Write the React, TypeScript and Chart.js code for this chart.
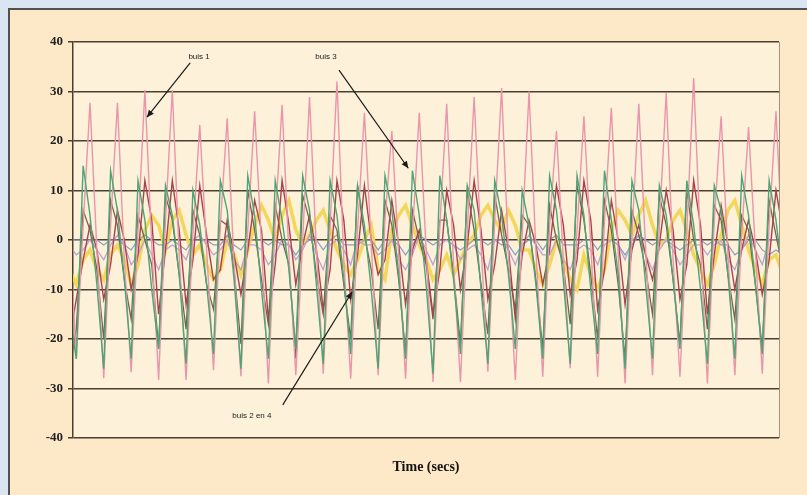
import React, { useEffect, useRef } from "react";
import { Chart, registerables } from "chart.js";

Chart.register(...registerables);

// Y axis range and tick step
const yMin = -40;
const yMax = 40;
const yStep = 10;
const xTitle = "Time (secs)";

// Sample instants (one step = a quarter of the dominant period)
const sampleTime = Array.from({ length: 105 }, (_, i) => i - 3);

// buis 1 (pink)
const buis1 = [
  2, -24, 3,
  27.7, -2, -27.9, 3,
  27.7, -4, -26.7, 2,
  30.3, -1, -28.3, 4,
  30.3, -3, -28.3, 1,
  23.2, -2, -26.3, 3,
  24.6, -5, -27.5, 2,
  26, -1, -29, 4,
  27.3, -3, -27.3, 0,
  28.9, -2, -27, 3,
  32, -4, -28, 2,
  25.7, -1, -27.3, 4,
  22, -3, -28, 1,
  25.7, -2, -28.7, 3,
  27.5, -5, -28.7, 2,
  28.9, -1, -26.6, 4,
  30.7, -3, -28.3, 1,
  30, -2, -27.6, 3,
  22, -4, -25.9, 2,
  25, -1, -27.6, 4,
  26.7, -3, -29, 1,
  27.5, -2, -27.3, 3,
  29.7, -4, -27.6, 2,
  32.7, -1, -29, 4,
  25, -3, -27.3, 1,
  22.8, -2, -27, 3,
  26, -3,
];

// buis 3 (green)
const buis3 = [
  -15, -24, 15,
  5, -9, -26, 14,
  6, -8, -24, 12,
  4, -10, -22, 11,
  5, -7, -25, 10,
  3, -9, -23, 12,
  6, -8, -26, 13,
  5, -10, -24, 12,
  4, -6, -22, 13,
  6, -9, -25, 12,
  5, -8, -23, 11,
  3, -10, -26, 13,
  6, -7, -24, 14,
  5, -9, -27, 13,
  4, -8, -23, 11,
  6, -10, -25, 12,
  5, -7, -22, 10,
  3, -9, -24, 13,
  6, -8, -25, 13,
  5, -10, -23, 14,
  4, -7, -26, 12,
  6, -9, -24, 11,
  5, -8, -22, 12,
  3, -10, -25, 11,
  6, -7, -24, 13,
  5, -9, -23, 12,
  4, -8,
];

// buis 2 (maroon)
const buis2 = [
  -20, -12, -4,
  3, -2, -12, -5,
  6, 0, -10, -3,
  12, 4, -15, -2,
  12, 2, -13, -4,
  11, 1, -8, -6,
  4, -3, -11, -2,
  8, 2, -16, -5,
  12, 3, -9, -1,
  5, -2, -14, -6,
  12, 4, -12, -3,
  11, 0, -7, -4,
  8, -1, -13, -2,
  2, -4, -15, -6,
  10, 3, -10, -1,
  12, 2, -12, -5,
  6, -2, -16, -3,
  4, -1, -9, -2,
  11, 3, -11, -4,
  12, 4, -14, -6,
  8, 0, -13, -2,
  3, -3, -8, -1,
  10, 2, -12, -5,
  12, 3, -15, -3,
  7, -1, -10, -2,
  4, -2, -11, -4,
  10, 2,
];

// buis 4 (dark olive)
const buis4 = [
  -26, -18, 6,
  2, -6, -20, 8,
  3, -8, -16, 5,
  0, -5, -22, 9,
  4, -7, -18, 6,
  1, -9, -14, 4,
  3, -6, -21, 10,
  2, -8, -17, 7,
  0, -5, -24, 9,
  4, -7, -15, 5,
  2, -9, -20, 11,
  1, -6, -18, 8,
  3, -8, -23, 6,
  0, -5, -16, 4,
  4, -7, -21, 10,
  2, -9, -19, 9,
  1, -6, -14, 5,
  3, -8, -22, 7,
  0, -5, -17, 11,
  4, -7, -20, 8,
  2, -9, -24, 6,
  1, -6, -15, 9,
  3, -8, -21, 10,
  0, -5, -18, 7,
  4, -7, -16, 5,
  2, -9, -22, 8,
  1, -6,
];

// yellow trace
const yellowTrace = [
  -6, -9, -4,
  -2, -6, -8, -3,
  -1, -4, -9, -5,
  2, 5, 3, -2,
  4, 6, 1, -3,
  -1, -5, -8, -6,
  0, -3, -7, -2,
  3, 7, 4, 0,
  5, 8, 2, -1,
  1, 4, 6, 2,
  -2, -5, -7, -4,
  0, 3, -6, -8,
  2, 5, 7, 3,
  -1, -4, -8, -6,
  -3, -7, -4, -1,
  1, 5, 7, 4,
  2, 6, 3, -2,
  -2, -6, -9, -5,
  0, -4, -8, -10,
  -3, -7, -10, -6,
  2, 6, 4, 1,
  5, 8, 3, -1,
  0, 4, 6, 2,
  -3, -6, -9, -5,
  1, 6, 8, 3,
  -2, -6, -9, -4,
  -3, -7,
];

// lilac trace
const lilacTrace = [
  -1, -3, -2,
  0, -2, -4, -1,
  1, -1, -5, -3,
  0, -3, -6, -2,
  -1, -2, -4, 0,
  1, -1, -3, -2,
  0, -4, -6, -1,
  -1, -2, -5, -3,
  0, -1, -4, -2,
  1, -3, -6, -1,
  0, -2, -5, 0,
  -1, -1, -3, -2,
  0, -4, -6, -3,
  1, -2, -5, -1,
  0, -1, -4, -2,
  -1, -3, -6, 0,
  0, -2, -5, -1,
  1, -1, -3, -3,
  0, -4, -6, -2,
  -1, -2, -5, -1,
  0, -1, -4, 0,
  1, -3, -6, -2,
  0, -2, -5, -3,
  -1, -1, -3, -1,
  0, -4, -6, -2,
  1, -2, -5, 0,
  0, -1,
];

// blue-grey trace
const blueTrace = [
  0, 0, 0,
  0, 0, -1, 0,
  0, -1, -2, 0,
  1, 0, -1, -1,
  0, -1, -2, 0,
  0, 0, -1, -1,
  1, -1, -2, 0,
  0, 0, -1, 0,
  -1, -1, -3, -1,
  0, 0, -2, 0,
  1, -1, -1, -1,
  0, 0, -2, 0,
  0, -1, -3, -1,
  1, 0, -1, 0,
  0, -1, -2, -1,
  0, 0, -1, 0,
  -1, -1, -3, -1,
  0, 0, -2, 0,
  1, -1, -1, -1,
  0, 0, -2, 0,
  0, -1, -3, -1,
  1, 0, -1, 0,
  0, -1, -2, -1,
  0, 0, -1, 0,
  -1, -1, -3, -2,
  0, 0, -2, -3,
  -2, -3,
];

// annotation labels: text position and arrow (in data units)
const annLabels = ["buis 1", "buis 3", "buis 2 en 4"];
const annTextX = [15.9, 34.4, 23.6];
const annTextY = [37.0, 37.0, -35.6];
const annFromX = [14.6, 36.3, 28.1];
const annFromY = [35.8, 34.3, -33.3];
const annToX = [8.3, 46.4, 38.2];
const annToY = [24.8, 14.5, -10.5];

const chartPlugin = {
  id: "decor",
  beforeDraw(chart: any) {
    const { ctx, chartArea: a } = chart;
    ctx.save();
    ctx.fillStyle = "#fdf1da";
    ctx.fillRect(a.left, a.top, a.right - a.left, a.bottom - a.top);
    ctx.restore();
  },
  afterDraw(chart: any) {
    const { ctx, chartArea: a, scales } = chart;
    ctx.save();
    ctx.strokeStyle = "#a09480";
    ctx.lineWidth = 1;
    ctx.beginPath();
    ctx.moveTo(a.right + 0.5, a.top);
    ctx.lineTo(a.right + 0.5, a.bottom);
    ctx.stroke();

    const xs = scales.x;
    const ys = scales.y;
    ctx.fillStyle = "#1a1a1a";
    ctx.strokeStyle = "#1a1a1a";
    ctx.font = '8px "Liberation Sans", Arial, sans-serif';
    ctx.textAlign = "center";
    ctx.textBaseline = "middle";
    for (let i = 0; i < annLabels.length; i++) {
      ctx.fillText(annLabels[i], xs.getPixelForValue(annTextX[i]), ys.getPixelForValue(annTextY[i]));
      const x0 = xs.getPixelForValue(annFromX[i]);
      const y0 = ys.getPixelForValue(annFromY[i]);
      const x1 = xs.getPixelForValue(annToX[i]);
      const y1 = ys.getPixelForValue(annToY[i]);
      ctx.lineWidth = 1.2;
      ctx.beginPath();
      ctx.moveTo(x0, y0);
      ctx.lineTo(x1, y1);
      ctx.stroke();
      const ang = Math.atan2(y1 - y0, x1 - x0);
      const len = 7;
      const w = 3.2;
      ctx.beginPath();
      ctx.moveTo(x1, y1);
      ctx.lineTo(x1 - len * Math.cos(ang) + w * Math.sin(ang), y1 - len * Math.sin(ang) - w * Math.cos(ang));
      ctx.lineTo(x1 - len * Math.cos(ang) - w * Math.sin(ang), y1 - len * Math.sin(ang) + w * Math.cos(ang));
      ctx.closePath();
      ctx.fill();
    }
    ctx.restore();
  },
};

function line(label: string, data: number[], color: string, width: number) {
  return {
    label,
    data,
    borderColor: color,
    backgroundColor: color,
    borderWidth: width,
    pointRadius: 0,
    tension: 0,
    fill: false,
  };
}

export default function App() {
  const canvasRef = useRef<HTMLCanvasElement | null>(null);

  useEffect(() => {
    document.body.style.background = "#dbe5f1";
    document.body.style.overflow = "hidden";
    const canvas = canvasRef.current;
    if (!canvas) return;
    const chart = new Chart(canvas, {
      type: "line",
      data: {
        labels: sampleTime,
        datasets: [
          line("buis 3", buis3, "#4aa673", 1.4),
          line("buis 1", buis1, "#ea95aa", 1.4),
          line("buis 2", buis2, "#a8424c", 1.4),
          line("buis 4", buis4, "#74664c", 1.3),
          line("lilac", lilacTrace, "#bda2cf", 1.3),
          line("blue", blueTrace, "#8a9fc4", 1.2),
          line("yellow", yellowTrace, "#f3d75a", 3.5),
        ] as any,
      },
      options: {
        animation: false,
        responsive: false,
        events: [],
        layout: { padding: { left: 0, right: 28, top: 32, bottom: 0 } },
        plugins: { legend: { display: false }, tooltip: { enabled: false } },
        scales: {
          x: {
            type: "linear",
            min: -2.48,
            max: 100.44,
            ticks: { display: false },
            grid: { display: false, drawTicks: false },
            border: { display: false },
            title: {
              display: true,
              text: xTitle,
              color: "#111",
              font: { family: '"Liberation Serif", serif', size: 14, weight: "bold" },
              padding: { top: 0, bottom: 19 },
            },
            afterFit(scale: any) {
              scale.height = 57;
            },
          },
          y: {
            min: yMin,
            max: yMax,
            ticks: {
              stepSize: yStep,
              color: "#222",
              padding: 5,
              font: { family: '"Liberation Serif", serif', size: 13, weight: "bold" },
            },
            grid: { color: "#4a3f30", lineWidth: 1.5, tickLength: 5, tickColor: "#4a3f30" },
            border: { display: true, color: "#4a3f30", width: 1.5 },
            afterFit(scale: any) {
              scale.width = 63;
            },
          },
        },
      } as any,
      plugins: [chartPlugin],
    });
    return () => chart.destroy();
  }, []);

  return (
    <div
      style={{
        position: "absolute",
        left: 8,
        top: 8,
        width: 799,
        height: 487,
        boxSizing: "border-box",
        borderTop: "2px solid #505050",
        borderLeft: "2px solid #505050",
        background: "#fde8c8",
        overflow: "hidden",
      }}
    >
      <canvas ref={canvasRef} width={797} height={485} style={{ display: "block", width: 797, height: 485 }} />
    </div>
  );
}
